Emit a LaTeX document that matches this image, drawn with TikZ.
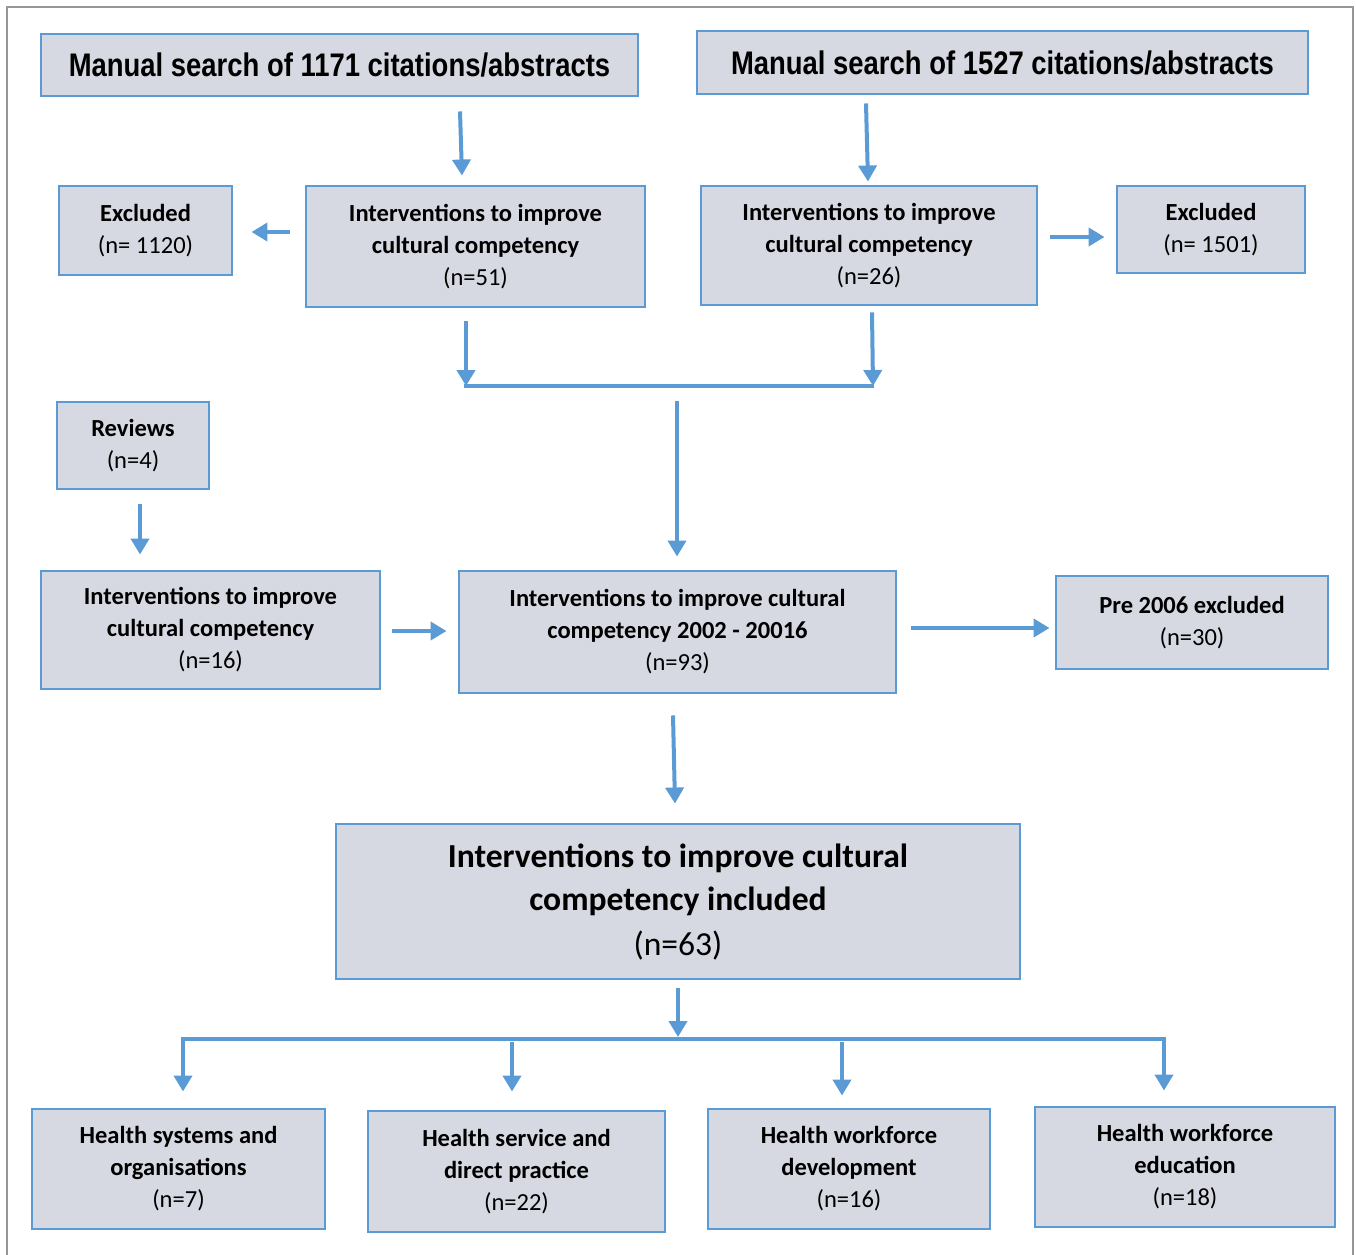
\documentclass[tikz,border=0pt]{standalone}
\usepackage{fontspec}
\setmainfont{Carlito}
\newfontfamily\headfont[FakeStretch=0.84]{Liberation Sans}
\usetikzlibrary{arrows.meta}
\definecolor{flowblue}{RGB}{91,155,213}
\definecolor{boxgrey}{RGB}{214,217,225}
\definecolor{framegrey}{RGB}{150,150,150}

\begin{document}
\begin{tikzpicture}[
    x=0.75pt, y=-0.75pt,
    >={Triangle[width=13.5pt,length=12pt]},
    box/.style={draw=flowblue, fill=boxgrey, line width=2.2pt, inner sep=0pt,
                font=\fontsize{18.4}{24}\selectfont\bfseries, align=center},
    searchbox/.style={box, font=\headfont\bfseries\fontsize{24.5}{28}\selectfont},
    bigbox/.style={box, font=\fontsize{25.2}{33}\selectfont\bfseries},
    arr/.style={->, draw=flowblue, line width=3pt},
    bar/.style={draw=flowblue, line width=3pt}
  ]
  \useasboundingbox (0,0) rectangle (1356,1254);
  \draw[framegrey, line width=1.5pt] (7,1260) -- (7,7) -- (1353,7) -- (1353,1260);

  % searches
  \node[searchbox, minimum width=447.75pt, minimum height=46.5pt] (t1) at (339.5,65) {Manual search of 1171 citations/abstracts};
  \node[searchbox, minimum width=458.25pt, minimum height=47.25pt] (t2) at (1002.5,62.5) {Manual search of 1527 citations/abstracts};

  \node[box, minimum width=129.75pt, minimum height=66.75pt] (exa) at (145.5,230.5) {Excluded\\\mdseries(n= 1120)};
  \node[box, minimum width=254.25pt, minimum height=90.75pt] (ia) at (475.5,246.5) {Interventions to improve\\cultural competency\\\mdseries(n=51)};
  \node[box, minimum width=252pt, minimum height=89.25pt] (ib) at (869,245.5) {Interventions to improve\\cultural competency\\\mdseries(n=26)};
  \node[box, minimum width=141pt, minimum height=65.25pt] (exb) at (1211,229.5) {Excluded\\\mdseries(n= 1501)};

  % merge
  \node[box, minimum width=114pt, minimum height=65.25pt] (rev) at (133,445.5) {Reviews\\\mdseries(n=4)};
  \node[box, minimum width=254.25pt, minimum height=88.5pt] (irev) at (210.5,630) {Interventions to improve\\cultural competency\\\mdseries(n=16)};
  \node[box, minimum width=327.75pt, minimum height=91.5pt] (all) at (677.5,632) {Interventions to improve cultural\\competency 2002 - 20016\\\mdseries(n=93)};
  \node[box, minimum width=204pt, minimum height=69.75pt] (pre) at (1192,622.5) {Pre 2006 excluded\\\mdseries(n=30)};

  \node[bigbox, minimum width=513pt, minimum height=116.25pt] (inc) at (678,901.5) {Interventions to improve cultural\\competency included\\\mdseries(n=63)};

  % categories
  \node[box, minimum width=219.75pt, minimum height=90pt] (hs) at (178.5,1169) {Health systems and\\organisations\\\mdseries(n=7)};
  \node[box, minimum width=222.75pt, minimum height=90.75pt] (hd) at (516.5,1171.5) {Health service and\\direct practice\\\mdseries(n=22)};
  \node[box, minimum width=211.5pt, minimum height=90pt] (hw) at (849,1169) {Health workforce\\development\\\mdseries(n=16)};
  \node[box, minimum width=225pt, minimum height=90pt] (he) at (1185,1167) {Health workforce\\education\\\mdseries(n=18)};

  \coordinate (jl) at (466,386);
  \coordinate (jr) at (873,386);
  \coordinate (km) at (678,1037);
  \coordinate (kl) at (183,1039);
  \coordinate (kr) at (1164,1039);

  \draw[arr] ([shift={(120.5,14)}]t1.south) -- ([shift={(-13.5,-9)}]ia.north);
  \draw[arr] ([shift={(-136.5,8)}]t2.south) -- ([shift={(-1,-3)}]ib.north);
  \draw[arr] ([shift={(-15,-14.5)}]ia.west) -- ([shift={(18,1.5)}]exa.east);
  \draw[arr] ([shift={(12,-8.5)}]ib.east) -- ([shift={(-11,7.5)}]exb.west);
  \draw[arr] ([shift={(-9.5,13)}]ia.south) -- (jl);
  \draw[arr] ([shift={(3,6)}]ib.south) -- (jr);
  \draw[bar] ([xshift=-1.5pt]jl) -- ([xshift=0.5pt]jr);
  \draw[arr] ([shift={(-0.5,-169)}]all.north) -- ([shift={(-0.5,-13)}]all.north);
  \draw[arr] ([shift={(7,14)}]rev.south) -- ([shift={(-70.5,-15)}]irev.north);
  \draw[arr] ([shift={(11,1)}]irev.east) -- ([shift={(-11,-1)}]all.west);
  \draw[arr] ([shift={(14,-4)}]all.east) -- ([shift={(-5,5.5)}]pre.west);
  \draw[arr] ([shift={(-4.5,21)}]all.south) -- ([shift={(-3,-19)}]inc.north);
  \draw[arr] ([shift={(0,8)}]inc.south) -- (km);
  \draw[arr, <->] ([shift={(4.5,-16)}]hs.north) -- (kl) -- (kr) -- ([shift={(-21,-15)}]he.north);
  \draw[arr] ([shift={(-4.5,-68)}]hd.north) -- ([shift={(-4.5,-18)}]hd.north);
  \draw[arr] ([shift={(-7,-66)}]hw.north) -- ([shift={(-7,-12)}]hw.north);
\end{tikzpicture}
\end{document}
